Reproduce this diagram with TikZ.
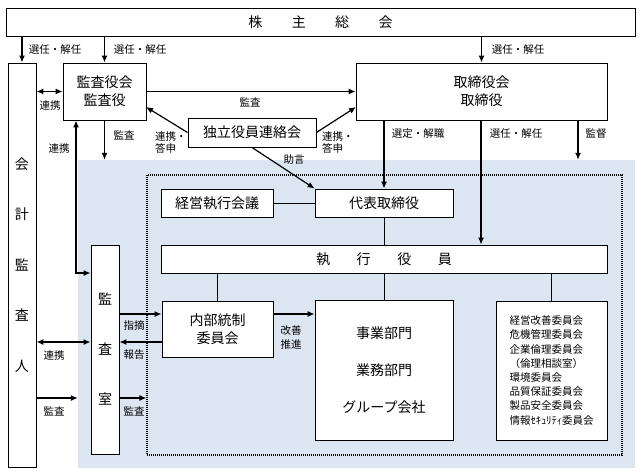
\documentclass[tikz,border=0pt]{standalone}
\usepackage{fontspec}
\setmainfont{Noto Sans CJK JP}
\usetikzlibrary{arrows.meta,calc}
\definecolor{bluebg}{RGB}{220,230,242}
\begin{document}
\begin{tikzpicture}[x=1pt,y=-1pt,
  box/.style={draw,line width=0.9pt,fill=white,inner sep=0pt,font=\fontsize{14}{18}\selectfont,align=center},
  lbl/.style={font=\fontsize{10.5}{12.5}\selectfont,inner sep=0pt,align=left},
  arr/.style={line width=1.2pt,-{Latex[length=7pt,width=6pt]}},
  dbl/.style={line width=1.2pt,{Latex[length=7pt,width=6pt]}-{Latex[length=7pt,width=6pt]}},
  ln/.style={line width=0.9pt}]
\useasboundingbox (0,0) rectangle (643,476);
% background regions
\node[fill=bluebg,inner sep=0pt,minimum width=557pt,minimum height=308pt] (blue) at (356.5,314) {};
\node[draw,dash pattern=on 1pt off 1pt,line width=1.3pt,inner sep=0pt,minimum width=475pt,minimum height=280pt] (dot) at (384.5,315) {};
% boxes
\node[box,minimum width=629pt,minimum height=28pt] (kabu) at (320.5,22) {株\hspace{2.1em}主\hspace{2.1em}総\hspace{2.1em}会};
\node[box,minimum width=28pt,minimum height=404pt,font=\fontsize{14}{50.5}\selectfont] (kaikei) at (22,265) {会\\計\\監\\査\\人};
\node[box,minimum width=83pt,minimum height=57pt] (kansayaku) at (104.5,91.5) {監査役会\\監査役};
\node[box,minimum width=251pt,minimum height=57pt] (torishimari) at (481.5,91.5) {取締役会\\取締役};
\node[box,minimum width=128pt,minimum height=29pt] (dokuritsu) at (252,132.5) {独立役員連絡会};
\node[box,minimum width=112pt,minimum height=28pt] (keiei) at (217,203) {経営執行会議};
\node[box,minimum width=138pt,minimum height=28pt] (daihyo) at (384,203) {代表取締役};
\node[box,minimum width=446pt,minimum height=28pt] (shikko) at (384,259) {執\hspace{1.9em}行\hspace{1.9em}役\hspace{1.9em}員};
\node[box,minimum width=28pt,minimum height=209pt,font=\fontsize{14}{50}\selectfont] (kansashitsu) at (105,349.5) {監\\査\\室};
\node[box,minimum width=111pt,minimum height=56pt] (naibu) at (217.5,329) {内部統制\\委員会};
\node[box,minimum width=138pt,minimum height=140pt,font=\fontsize{14}{37}\selectfont] (jigyo) at (384,370) {事業部門\\業務部門\\グループ会社};
\node[box,minimum width=111pt,minimum height=139pt,align=left,font=\fontsize{10.5}{14.2}\selectfont] (iinkai) at (551.5,370.5) {経営改善委員会\\危機管理委員会\\企業倫理委員会\\（倫理相談室）\\環境委員会\\品質保証委員会\\製品安全委員会\\情報ｾｷｭﾘﾃｨ委員会};
% helper coordinates
\coordinate (cA) at (76,273);
\coordinate (cSel) at (481,0);
\coordinate (cKan) at (578,0);
\coordinate (r1) at (0,314);
\coordinate (r2) at (0,342);
\coordinate (r3) at (0,398);
\coordinate (dkL) at (146,107);
\coordinate (dkR) at (356,107);
% top arrows
\draw[arr] (kabu.south -| kaikei.north) -- (kaikei.north);
\draw[arr] (kabu.south -| kansayaku.north) -- (kansayaku.north);
\draw[arr] (kabu.south -| torishimari.north) -- (torishimari.north);
\node[lbl] (t1) at (55,50) {選任・解任};
\node[lbl] (t2) at (140,50) {選任・解任};
\node[lbl] (t3) at (518,50) {選任・解任};
% kaikei - kansayaku
\draw[dbl] (kaikei.east |- kansayaku.west) -- (kansayaku.west);
\node[lbl] (t4) at (50,106) {連携};
% kansayaku -> torishimari
\draw[arr] (kansayaku.east) -- (torishimari.west);
\node[lbl] (t5) at (250,102) {監査};
% dokuritsu links
\draw[arr] (dokuritsu.west) -- (dkL);
\draw[arr] (dokuritsu.east) -- (dkR);
\node[lbl,align=left,anchor=north west,font=\fontsize{10.5}{12.5}\selectfont] (t6) at (155,131) {連携・\\答申};
\node[lbl,align=left,anchor=north west,font=\fontsize{10.5}{12.5}\selectfont] (t7) at (322,131) {連携・\\答申};
\draw[arr] (dokuritsu.south) -- (daihyo.north west);
\node[lbl] (t8) at (294,160) {助言};
% kansayaku audit down
\draw[arr] (kansayaku.south) -- (kansayaku.south |- blue.north);
\node[lbl] (t9) at (124,135) {監査};
% kansayaku - kansashitsu
\draw[dbl] (kansayaku.south -| cA) |- (kansashitsu.west |- cA);
\node[lbl] (t10) at (59,149) {連携};
% torishimari downward
\draw[arr] (torishimari.south -| daihyo.north) -- (daihyo.north);
\node[lbl] (t11) at (418,134) {選定・解職};
\draw[arr] (torishimari.south -| cSel) -- (shikko.north -| cSel);
\node[lbl] (t12) at (516,134) {選任・解任};
\draw[arr] (torishimari.south -| cKan) -- (blue.north -| cKan);
\node[lbl] (t13) at (596,134) {監督};
% executive lines
\draw[ln] (keiei.east) -- (daihyo.west);
\draw[ln] (daihyo.south) -- (shikko.north);
\draw[ln] (shikko.south -| naibu.north) -- (naibu.north);
\draw[ln] (shikko.south -| jigyo.north) -- (jigyo.north);
\draw[ln] (shikko.south -| iinkai.north) -- (iinkai.north);
% lower left
\draw[dbl] (kaikei.east |- r2) -- (kansashitsu.west |- r2);
\node[lbl] (t14) at (54,356) {連携};
\draw[arr] (kaikei.east |- r3) -- (blue.west |- r3);
\node[lbl] (t15) at (54,411) {監査};
\draw[arr] (kansashitsu.east |- r1) -- (naibu.west |- r1);
\node[lbl] (t16) at (134,326) {指摘};
\draw[arr] (naibu.west |- r2) -- (kansashitsu.east |- r2);
\node[lbl] (t17) at (134,355) {報告};
\draw[arr] (kansashitsu.east |- r3) -- (dot.west |- r3);
\node[lbl] (t18) at (134,411) {監査};
\draw[arr] (naibu.east |- r1) -- (jigyo.west |- r1);
\node[lbl,align=center,font=\fontsize{10.5}{14}\selectfont] (t19) at (291,337) {改善\\推進};
\end{tikzpicture}
\end{document}
